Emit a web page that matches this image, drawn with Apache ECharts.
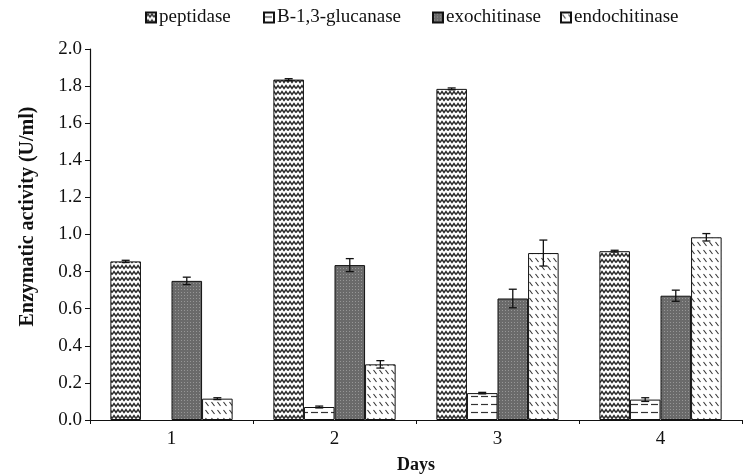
<!DOCTYPE html>
<html><head><meta charset="utf-8">
<script src="https://cdn.jsdelivr.net/npm/echarts@6/dist/echarts.min.js"></script>
<style>html,body{margin:0;padding:0;background:#fff}#c{width:744px;height:475px}</style>
</head><body><div id="c"></div>
<script>
const days = ['1', '2', '3', '4'];
const seriesNames = ['peptidase', 'B-1,3-glucanase', 'exochitinase', 'endochitinase'];
const peptidase = [0.855, 1.835, 1.785, 0.91];
const glucanase = [null, 0.07, 0.145, 0.11];
const exochitinase = [0.75, 0.835, 0.655, 0.67];
const endochitinase = [0.115, 0.30, 0.90, 0.985];
const peptidaseErr = [0.006, 0.005, 0.005, 0.005];
const glucanaseErr = [0, 0.005, 0.004, 0.01];
const exochitinaseErr = [0.02, 0.035, 0.05, 0.03];
const endochitinaseErr = [0.005, 0.02, 0.07, 0.02];
const yTicks = { min: 0, max: 2, interval: 0.2 };

function mk(w, h, draw) {
  const c = document.createElement('canvas'); c.width = w; c.height = h;
  const g = c.getContext('2d'); draw(g, w, h); return c;
}
const zigzag = mk(8, 6, (g, w, h) => {
  g.fillStyle = '#fff'; g.fillRect(0, 0, w, h);
  g.strokeStyle = '#2a2a2a'; g.lineWidth = 1.5;
  g.beginPath(); g.moveTo(0, 4.5); g.lineTo(2, 1.5); g.lineTo(4, 4.5); g.lineTo(6, 1.5); g.lineTo(8, 4.5); g.stroke();
});
const dashes = mk(10, 8, (g, w, h) => {
  g.fillStyle = '#fff'; g.fillRect(0, 0, w, h);
  g.strokeStyle = '#333'; g.lineWidth = 1.2;
  g.beginPath(); g.moveTo(1, 4.5); g.lineTo(8, 4.5); g.stroke();
});
const dots = mk(3, 3, (g, w, h) => {
  g.fillStyle = '#6a6a6a'; g.fillRect(0, 0, w, h);
  g.fillStyle = '#969696'; g.fillRect(1, 1, 1, 1);
});
const diag = mk(6, 8, (g, w, h) => {
  g.fillStyle = '#fff'; g.fillRect(0, 0, w, h);
  g.strokeStyle = '#333'; g.lineWidth = 1.1;
  g.beginPath(); g.moveTo(1.5, 2); g.lineTo(4.5, 6); g.stroke();
});
const patterns = [zigzag, dashes, dots, diag];
const values = [peptidase, glucanase, exochitinase, endochitinase];
const errs = [peptidaseErr, glucanaseErr, exochitinaseErr, endochitinaseErr];
const font = 'Liberation Serif';
const legendLeft = [145, 263, 432, 560];

const barSeries = seriesNames.map((n, i) => ({
  name: n, type: 'bar', data: values[i],
  barGap: '0%', barCategoryGap: '25%',
  itemStyle: { color: { image: patterns[i], repeat: 'repeat' }, borderColor: '#111', borderWidth: 1 },
  emphasis: { disabled: true }
}));

const errData = [];
values.forEach((arr, s) => arr.forEach((v, k) => { if (v != null && errs[s][k] > 0) errData.push([k, v, errs[s][k], s]); }));

const errSeries = {
  type: 'custom', z: 10, silent: true,
  data: errData, encode: { x: 0, y: 1 },
  renderItem: function (params, api) {
    const k = api.value(0), v = api.value(1), e = api.value(2), s = api.value(3);
    const band = api.size([1, 0])[0];
    const group = band * 0.75, bw = group / 4;
    const p = api.coord([k, v]);
    const x = p[0] - group / 2 + bw * (s + 0.5);
    const yt = api.coord([k, v + e])[1], yb = api.coord([k, v - e])[1];
    const cap = 4;
    const st = { stroke: '#111', lineWidth: 1.3 };
    return { type: 'group', children: [
      { type: 'line', shape: { x1: x, y1: yt, x2: x, y2: yb }, style: st },
      { type: 'line', shape: { x1: x - cap, y1: yt, x2: x + cap, y2: yt }, style: st },
      { type: 'line', shape: { x1: x - cap, y1: yb, x2: x + cap, y2: yb }, style: st }
    ]};
  }
};

const legends = seriesNames.map((n, i) => ({
  top: 8, left: legendLeft[i], padding: 0, itemWidth: 10, itemHeight: 10, icon: 'rect',
  data: [n], selectedMode: false,
  textStyle: { fontFamily: font, fontSize: 19, color: '#111', padding: [0, 0, 0, -2] }
}));

const chart = echarts.init(document.getElementById('c'), null, { renderer: 'canvas' });
chart.setOption({
  animation: false,
  backgroundColor: '#fff',
  legend: legends,
  grid: { left: 90, right: 2, top: 49, bottom: 55, outerBoundsMode: 'none', containLabel: false },
  xAxis: {
    type: 'category', data: days,
    name: 'Days', nameLocation: 'middle', nameGap: 36,
    nameTextStyle: { fontFamily: font, fontSize: 18, fontWeight: 'bold', color: '#111' },
    axisLine: { lineStyle: { color: '#111', width: 1.2 } },
    axisTick: { show: true, length: 4, lineStyle: { color: '#111' } },
    axisLabel: { fontFamily: font, fontSize: 19, color: '#111', margin: 10 }
  },
  yAxis: {
    type: 'value', min: yTicks.min, max: yTicks.max, interval: yTicks.interval,
    name: 'Enzymatic activity (U/ml)', nameLocation: 'middle', nameGap: 52,
    nameTextStyle: { fontFamily: font, fontSize: 20, fontWeight: 'bold', color: '#111', padding: [0, 0, 0, 36] },
    axisLine: { show: true, lineStyle: { color: '#111', width: 1.2 } },
    axisTick: { show: true, length: 5, lineStyle: { color: '#111' } },
    splitLine: { show: false },
    axisLabel: { fontFamily: font, fontSize: 19, color: '#111', margin: 8, formatter: v => v.toFixed(1) }
  },
  series: [...barSeries, errSeries]
});
</script></body></html>
